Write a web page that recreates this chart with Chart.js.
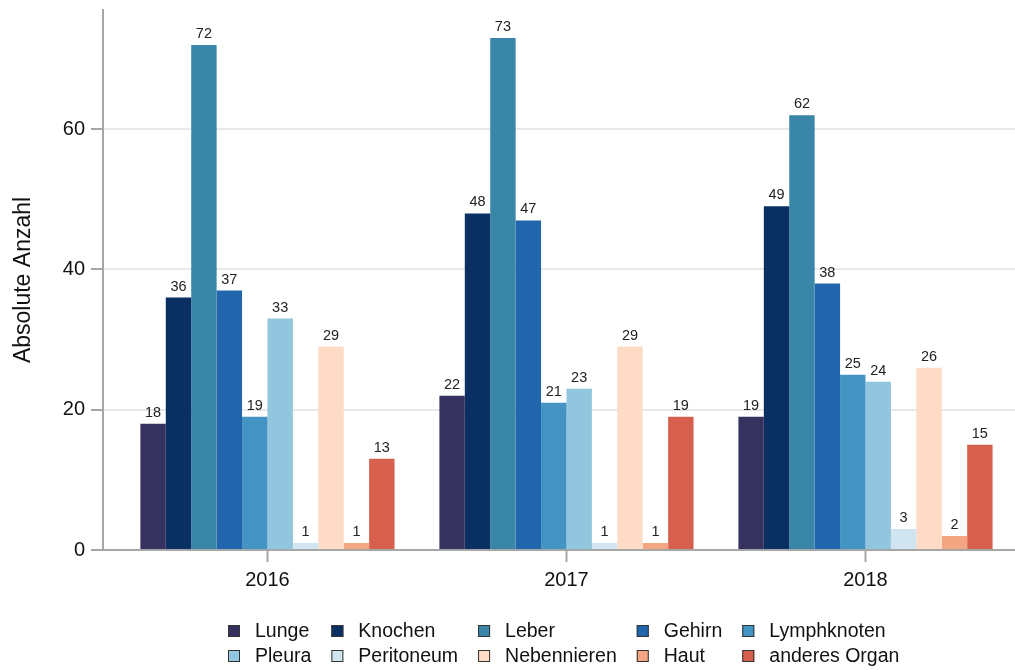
<!DOCTYPE html>
<html>
<head>
<meta charset="utf-8">
<script src="https://cdn.jsdelivr.net/npm/chart.js@4.4.1/dist/chart.umd.min.js"></script>
<style>
  body { margin: 0; background: #fff; }
  #wrap { width: 1015px; height: 670px; }
</style>
</head>
<body>
<div id="wrap"><canvas id="myChart"></canvas></div>
<script>
/* data */
const years = ['2016', '2017', '2018'];
const organs = ['Lunge', 'Knochen', 'Leber', 'Gehirn', 'Lymphknoten', 'Pleura', 'Peritoneum', 'Nebennieren', 'Haut', 'anderes Organ'];
const lunge       = [18, 22, 19];
const knochen     = [36, 48, 49];
const leber       = [72, 73, 62];
const gehirn      = [37, 47, 38];
const lymphknoten = [19, 21, 25];
const pleura      = [33, 23, 24];
const peritoneum  = [1, 1, 3];
const nebennieren = [29, 29, 26];
const haut        = [1, 1, 2];
const anderes     = [13, 19, 15];
const yTicks = [0, 20, 40, 60];

const seriesValues = [lunge, knochen, leber, gehirn, lymphknoten, pleura, peritoneum, nebennieren, haut, anderes];
const colors = ['#353260', '#0a3063', '#3a86a9', '#2166ac', '#4393c3', '#92c5de', '#d1e5f0', '#fddbc7', '#f4a582', '#d6604d'];

const FONT = 'Liberation Sans, Arial, sans-serif';

/* Werte ueber den Balken */
const valueLabels = {
  id: 'valueLabels',
  afterDatasetsDraw(chart) {
    const ctx = chart.ctx;
    ctx.save();
    ctx.font = '14.5px ' + FONT;
    ctx.fillStyle = '#222';
    ctx.textAlign = 'center';
    ctx.textBaseline = 'alphabetic';
    chart.data.datasets.forEach((ds, i) => {
      chart.getDatasetMeta(i).data.forEach((bar, j) => {
        ctx.fillText(seriesValues[i][j], bar.x, bar.y - 7);
      });
    });
    ctx.restore();
  }
};

/* Legende im Raster (zwei Zeilen, fuenf Spalten) */
const gridLegend = {
  id: 'gridLegend',
  afterDraw(chart) {
    const ctx = chart.ctx;
    const cols = 5, box = 12, textOff = 27, gap = 20;
    const rowsY = [631, 656];
    ctx.save();
    ctx.font = '19.5px ' + FONT;
    const colW = [];
    for (let c = 0; c < cols; c++) {
      let w = 0;
      for (let r = 0; r < 2; r++) {
        w = Math.max(w, ctx.measureText(organs[r * cols + c]).width);
      }
      colW.push(w + textOff + gap);
    }
    const total = colW.reduce((a, b) => a + b, 0) - gap;
    const center = chart.scales.x.getPixelForValue(1) - 3;
    let x = Math.round(center - total / 2);
    ctx.textBaseline = 'middle';
    ctx.textAlign = 'left';
    for (let c = 0; c < cols; c++) {
      for (let r = 0; r < 2; r++) {
        const k = r * cols + c;
        const y = rowsY[r];
        ctx.fillStyle = colors[k];
        ctx.fillRect(x, y - box / 2, box, box);
        ctx.strokeStyle = '#333';
        ctx.lineWidth = 1;
        ctx.strokeRect(x + 0.5, y - box / 2 + 0.5, box - 1, box - 1);
        ctx.fillStyle = '#111';
        ctx.fillText(organs[k], x + textOff, y + 1);
      }
      x += colW[c];
    }
    ctx.restore();
  }
};

const ctx = document.getElementById('myChart');

const myChart = new Chart(ctx, {
  type: 'bar',
  data: {
    datasets: organs.map((name, i) => ({
      label: name,
      data: seriesValues[i].map((v, j) => ({ x: j, y: v })),
      backgroundColor: colors[i],
      borderWidth: 0
    }))
  },
  options: {
    responsive: true,
    maintainAspectRatio: false,
    animation: false,
    categoryPercentage: 0.85,
    barPercentage: 1.0,
    layout: { padding: { top: 10, bottom: 70, left: 0, right: 0 } },
    plugins: {
      legend: { display: false },
      tooltip: { enabled: false }
    },
    scales: {
      x: {
        type: 'linear',
        min: -0.55,
        max: 2.5,
        offset: false,
        afterBuildTicks: (scale) => { scale.ticks = years.map((y, i) => ({ value: i })); },
        afterFit: (scale) => { scale.height = 50; },
        ticks: {
          autoSkip: false,
          maxRotation: 0,
          padding: 6,
          color: '#111',
          font: { family: FONT, size: 20 },
          callback: (v, i) => years[i]
        },
        grid: {
          offset: false,
          drawOnChartArea: false,
          drawTicks: true,
          tickLength: 12,
          tickColor: '#a6a6a6',
          tickWidth: 2
        },
        border: { display: true, color: '#a6a6a6', width: 2 }
      },
      y: {
        min: 0,
        max: 77,
        afterBuildTicks: (scale) => { scale.ticks = yTicks.map(v => ({ value: v })); },
        afterFit: (scale) => {
          scale.width = 103;
          scale.paddingTop = 0;
          scale.paddingBottom = 0;
        },
        title: {
          display: true,
          text: 'Absolute Anzahl',
          color: '#111',
          font: { family: FONT, size: 23 },
          padding: { top: 10, bottom: 0 }
        },
        ticks: {
          padding: 6,
          color: '#111',
          font: { family: FONT, size: 20 }
        },
        grid: {
          color: '#e8e8e8',
          lineWidth: 2,
          tickLength: 12,
          tickColor: '#a6a6a6',
          tickWidth: 2
        },
        border: { display: true, color: '#a6a6a6', width: 2 }
      }
    }
  },
  plugins: [valueLabels, gridLegend]
});
</script>
</body>
</html>
